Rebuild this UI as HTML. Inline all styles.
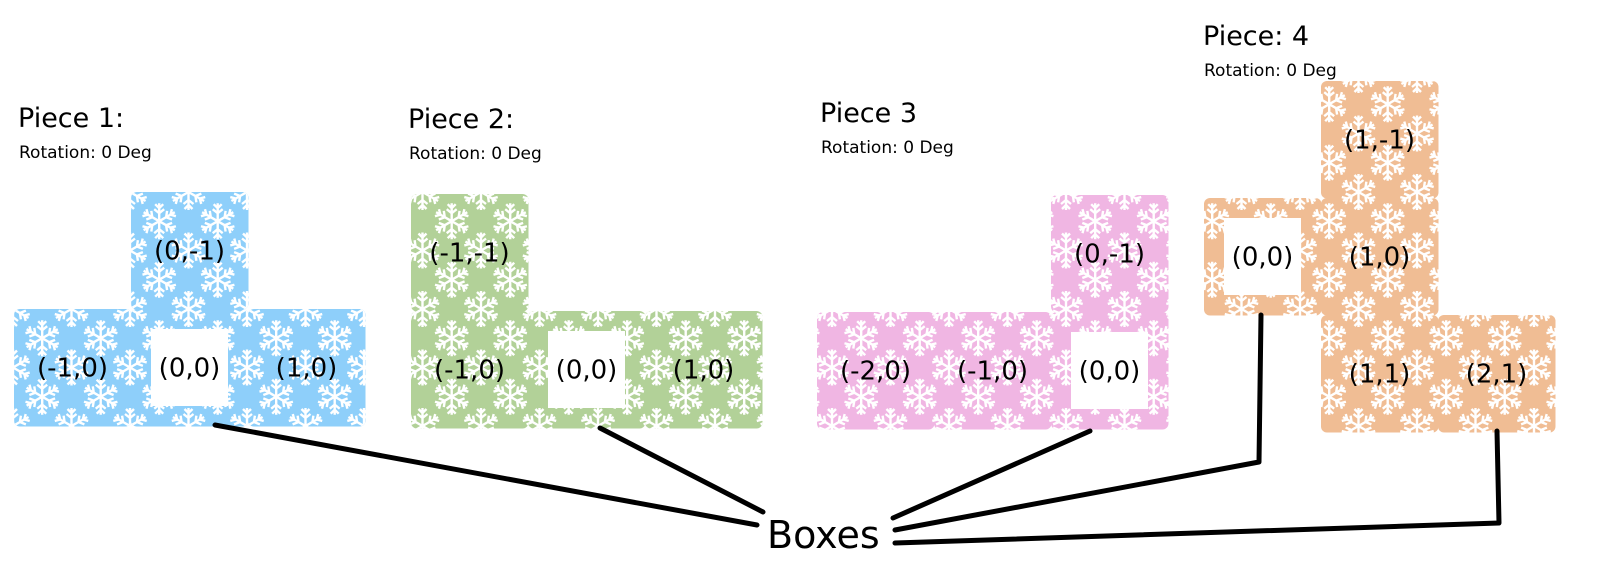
<!DOCTYPE html>
<html><head><meta charset="utf-8"><style>
html,body{margin:0;padding:0;background:#fff;}
svg{display:block;font-family:"DejaVu Sans","Liberation Sans",sans-serif;}
</style></head><body>
<svg id="s" width="1610" height="579" viewBox="0 0 1610 579" xmlns="http://www.w3.org/2000/svg">
<defs>
<g id="flk" stroke="#fff" stroke-width="2.4" fill="none" stroke-linecap="butt">
  <g id="spoke"><path d="M0,0 L0,-18 M0,-8 L-5,-12 M0,-8 L5,-12 M0,-13 L-4,-17 M0,-13 L4,-17"/></g>
  <use href="#spoke" transform="rotate(60)"/>
  <use href="#spoke" transform="rotate(120)"/>
  <use href="#spoke" transform="rotate(180)"/>
  <use href="#spoke" transform="rotate(240)"/>
  <use href="#spoke" transform="rotate(300)"/>
</g>
<pattern id="flakes" patternUnits="userSpaceOnUse" width="58.5" height="58.5" x="13" y="192">
  <use href="#flk" x="29.2" y="29.2"/>
  <use href="#flk" x="0" y="0"/>
  <use href="#flk" x="58.5" y="0"/>
  <use href="#flk" x="0" y="58.5"/>
  <use href="#flk" x="58.5" y="58.5"/>
</pattern>
</defs>
<g id="g"></g>
</svg>
<script>
const pieceNames = ["Piece 1:", "Piece 2:", "Piece 3", "Piece: 4"];
const pieceColors = ["#8ecffa", "#b2d198", "#f0b6e3", "#f0bd94"];
const pieceCells = [
  [[0,-1],[-1,0],[0,0],[1,0]],
  [[-1,-1],[-1,0],[0,0],[1,0]],
  [[0,-1],[-2,0],[-1,0],[0,0]],
  [[1,-1],[0,0],[1,0],[1,1],[2,1]]
];
const origins = [[131,309],[528,311],[1051,312],[1204,198]];
const titlePos = [[18,127],[408,128],[820,122],[1203,45]];
const C = 117;
const g = document.getElementById('g');
const NS = "http://www.w3.org/2000/svg";
function mk(tag, attrs){const e=document.createElementNS(NS,tag);for(const k in attrs)e.setAttribute(k,attrs[k]);return e;}
pieceCells.forEach((cells,p)=>{
  const pg = mk('g',{});
  
  
  g.appendChild(pg);
  const t = mk('text',{x:titlePos[p][0],y:titlePos[p][1],'font-size':27,fill:'#000'});
  t.textContent = pieceNames[p];
  
  
  pg.appendChild(t);
  const r = mk('text',{x:titlePos[p][0]+1,y:titlePos[p][1]+31,'font-size':17,fill:'#000'});
  r.textContent = "Rotation: 0 Deg";
  
  
  pg.appendChild(r);
  const bg = mk('g',{});
  const lb = mk('g',{});
  pg.appendChild(bg); pg.appendChild(lb);
  cells.forEach(([cx,cy])=>{
    const x = origins[p][0] + cx*C, y = origins[p][1] + cy*C;
    const cg = mk('g',{});
    
    
    cg.appendChild(mk('rect',{x:x,y:y,width:C+0.5,height:C+0.5,rx:6,fill:pieceColors[p]}));
    cg.appendChild(mk('rect',{x:x,y:y,width:C+0.5,height:C+0.5,rx:6,fill:'url(#flakes)'}));
    bg.appendChild(cg);
    if(cx===0&&cy===0){
      lb.appendChild(mk('rect',{x:x+20,y:y+20,width:77,height:77,fill:'#fff'}));
    }
    const lt = mk('text',{x:x+C/2,y:y+C/2+9,'font-size':26,'text-anchor':'middle',fill:'#000'});
    lt.textContent = '(' + cx + ',' + cy + ')';
    
    
    lb.appendChild(lt);
  });
});
const connectors = [
  "M215,425 L757,525",
  "M600,428 L763,512",
  "M1090,431 L893,518",
  "M1261,315 L1259,462 L895,530",
  "M1497,431 L1499,523 L895,543"
];
connectors.forEach(d=>{
  const l = mk('path',{d:d,fill:'none',stroke:'#000','stroke-width':5,'stroke-linecap':'round','stroke-linejoin':'round'});
  
  
  g.appendChild(l);
});
const b = mk('text',{x:767,y:548,'font-size':38,fill:'#000'});
b.textContent = "Boxes";


g.appendChild(b);
</script>
</body></html>
